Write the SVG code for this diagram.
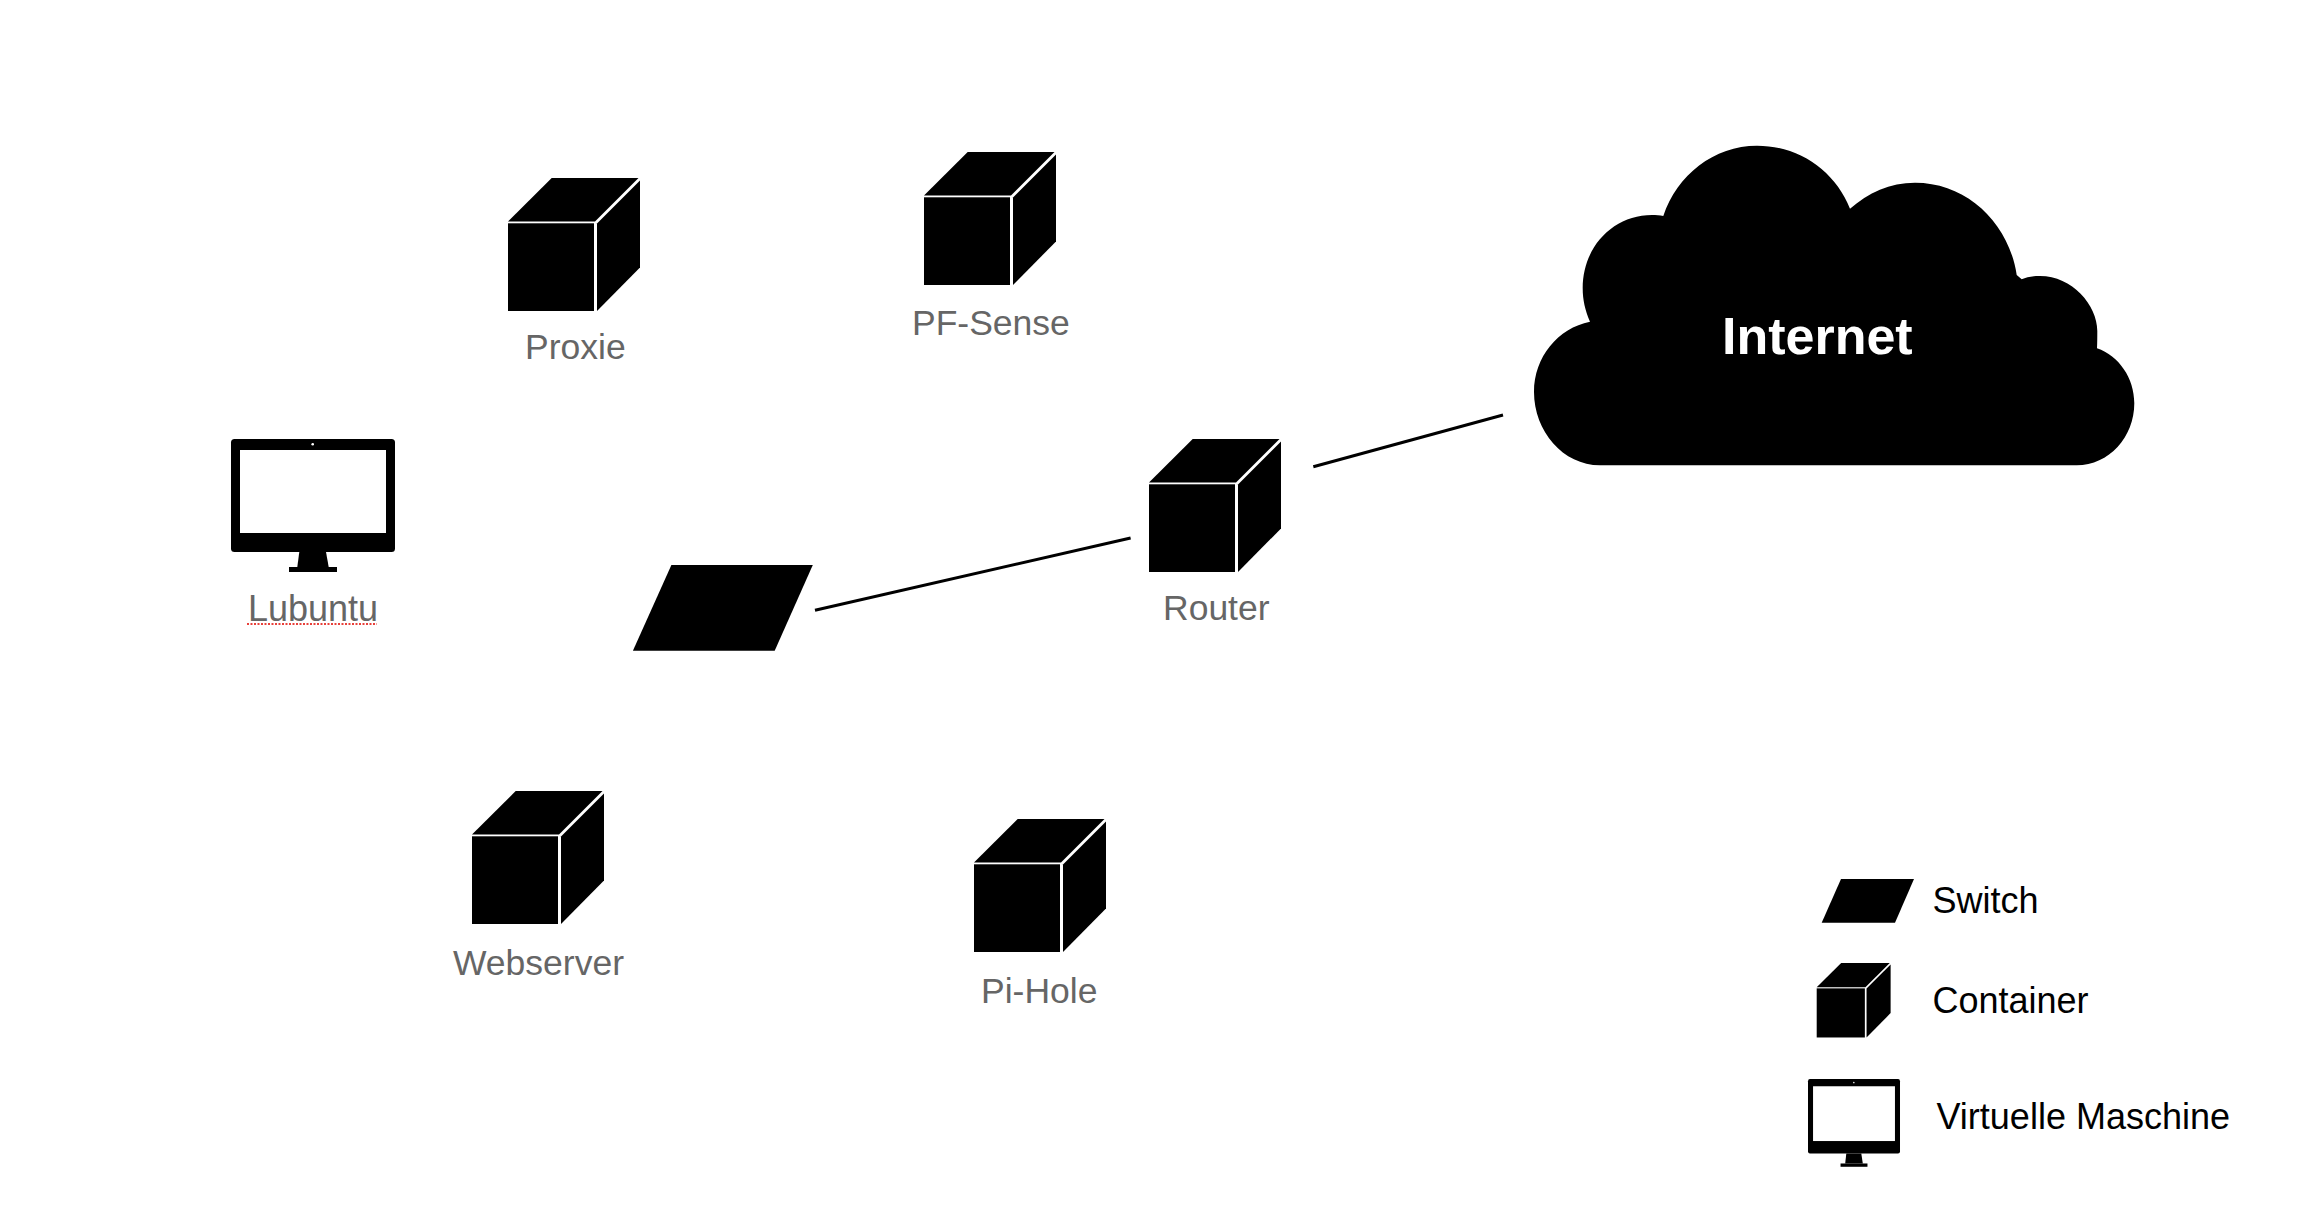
<svg xmlns="http://www.w3.org/2000/svg" xmlns:xlink="http://www.w3.org/1999/xlink" width="2306" height="1212" viewBox="0 0 2306 1212">
<style>
text{font-family:"Liberation Sans",Arial,Helvetica,sans-serif}
.lbl{font-size:35.5px;fill:#666}
.leg{font-size:36px;fill:#000}
.cable{stroke:#000;stroke-width:3;fill:none}
</style>
<defs>
<g id="cube"><path d="M0 43.5L43.7 0H130.5L87 43.5Z"/><rect x="0" y="45.3" width="86" height="87.7"/><path d="M89 45.5L132 2.5V89.5L89 133Z"/></g>
<g id="monitor"><rect x="0" y="0" width="164" height="113" rx="3.5"/><rect x="9" y="11" width="146" height="83" fill="#fff"/><circle cx="81.7" cy="5.3" r="1.3" fill="#fff"/><path d="M68.3 113H95L97.7 128H66.3Z"/><rect x="58" y="128" width="48" height="5"/></g>
</defs>
<rect width="2306" height="1212" fill="#fff"/>
<g id="connectors">
<line class="cable" x1="815" y1="610.3" x2="1130.6" y2="538"/>
<line class="cable" x1="1313.3" y1="466.7" x2="1503" y2="415"/>
</g>
<g id="cloud">
<path d="M1600 465.3C1563 465.3 1534 431 1534 392C1534 357 1558 328 1590 321.7C1585 310 1582.7 300 1582.7 288C1582.7 247 1613 215 1652 215C1656 215 1660 215.4 1663.3 216C1677 175 1714 145.7 1757 145.7C1799 145.7 1835 171 1850 208.7C1868 193 1890 182.7 1915 182.7C1967 182.7 2009 223 2016.7 275L2021.7 279.3C2027 277 2033 276 2040 276C2072 276 2097.3 305 2097.3 331C2097.3 337 2097.3 343 2097 348.3C2119 356 2134.3 378 2134.3 403.3C2134.3 437 2109 465.3 2076.7 465.3Z"/>
<text x="1722" y="354" font-size="52" font-weight="700" fill="#fff">Internet</text>
</g>
<g id="proxie"><use xlink:href="#cube" href="#cube" x="508" y="178"/><text class="lbl" x="525" y="359">Proxie</text></g>
<g id="pf-sense"><use xlink:href="#cube" href="#cube" x="924" y="152"/><text class="lbl" x="912" y="335">PF-Sense</text></g>
<g id="router"><use xlink:href="#cube" href="#cube" x="1149" y="439"/><text class="lbl" x="1163" y="620">Router</text></g>
<g id="webserver"><use xlink:href="#cube" href="#cube" x="472" y="791"/><text class="lbl" x="453" y="975">Webserver</text></g>
<g id="pi-hole"><use xlink:href="#cube" href="#cube" x="974" y="819"/><text class="lbl" x="981" y="1003">Pi-Hole</text></g>
<g id="lubuntu"><use xlink:href="#monitor" href="#monitor" x="231" y="439"/><text class="lbl" style="font-size:36px" x="248" y="620.7">Lubuntu</text><line x1="247" y1="624" x2="377" y2="624" stroke="#e8403a" stroke-width="2" stroke-dasharray="2 1.5"/></g>
<g id="switch"><path d="M671.4 565H812.8L774.7 650.7H632.9Z"/></g>
<g id="legend">
<path d="M1841 879H1914L1895 922.7H1821.7Z"/><text class="leg" x="1932.5" y="913.3">Switch</text>
<use xlink:href="#cube" href="#cube" transform="translate(1816.7 963) scale(.56)"/><text class="leg" x="1932.5" y="1013.3">Container</text>
<use xlink:href="#monitor" href="#monitor" transform="translate(1808 1079) scale(.561 .66)"/><text class="leg" x="1936.5" y="1129.3">Virtuelle Maschine</text>
</g>
</svg>
